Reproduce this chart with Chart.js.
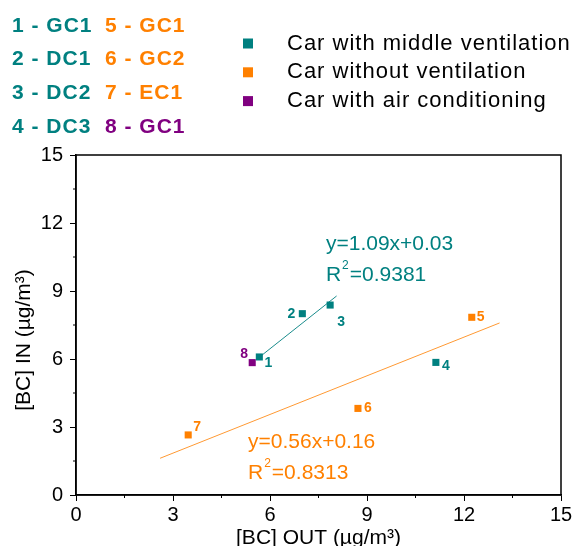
<!DOCTYPE html>
<html>
<head>
<meta charset="utf-8">
<script src="https://cdn.jsdelivr.net/npm/chart.js@4"></script>
<style>
  html, body { margin: 0; padding: 0; background: #fff; }
  #wrap { width: 576px; height: 546px; }
</style>
</head>
<body>
<div id="wrap"><canvas id="bcChart" width="576" height="546"></canvas></div>
<script>
const outBC = [5.67, 7.0, 7.86, 11.13, 12.24, 8.72, 3.47, 5.45];
const inBC = [6.09, 8.0, 8.38, 5.85, 7.84, 3.82, 2.65, 5.84];
const pointNames = ['1', '2', '3', '4', '5', '6', '7', '8'];
const pointGroup = [0, 0, 0, 0, 1, 1, 1, 2];
const groupNames = ['Car with middle ventilation', 'Car without ventilation', 'Car with air conditioning'];
const siteKeys = ['1 - GC1', '2 - DC1', '3 - DC2', '4 - DC3', '5 - GC1', '6 - GC2', '7 - EC1', '8 - GC1'];

// fitted lines (end points as drawn)
const fitMiddleX = [5.6, 8.06];
const fitMiddleY = [6.0, 8.78];
const fitNoVentX = [2.6, 13.1];
const fitNoVentY = [1.62, 7.59];
const fitEquations = ['y=1.09x+0.03', 'y=0.56x+0.16'];
const fitR2 = ['0.9381', '0.8313'];

const groupColors = ['#008080', '#ff8000', '#800080'];
const fitColors = ['#1a8c8c', '#ff9933'];
// label offsets in px from each marker
const labelOffsets = [[9, 6], [-11, 0], [11, 17], [10, 4], [9, 0], [10, 0], [9, -8], [-8, -8]];
// where the equations sit (data coords of the left edge, first line)
const eqAnchors = [[7.73, 11.07], [5.32, 2.34]];

const datasets = groupNames.map((name, g) => {
    const pts = [];
    outBC.forEach((x, i) => {
        if (pointGroup[i] === g) pts.push({ x: x, y: inBC[i], label: pointNames[i] });
    });
    return {
        type: 'scatter',
        label: name,
        data: pts,
        pointStyle: 'rect',
        pointRadius: 5,
        backgroundColor: groupColors[g],
        borderColor: groupColors[g],
        borderWidth: 0
    };
});
datasets.push({
    type: 'line',
    label: 'fit middle',
    data: fitMiddleX.map((x, i) => ({ x: x, y: fitMiddleY[i] })),
    borderColor: fitColors[0],
    borderWidth: 1,
    pointRadius: 0,
    fill: false
});
datasets.push({
    type: 'line',
    label: 'fit no vent',
    data: fitNoVentX.map((x, i) => ({ x: x, y: fitNoVentY[i] })),
    borderColor: fitColors[1],
    borderWidth: 1,
    pointRadius: 0,
    fill: false
});

const isMajor = v => Math.abs(v / 3 - Math.round(v / 3)) < 1e-6;

const decorPlugin = {
    id: 'decor',
    afterDraw(chart) {
        const ctx = chart.ctx;
        const area = chart.chartArea;
        const xs = chart.scales.x, ys = chart.scales.y;
        ctx.save();

        // box
        ctx.strokeStyle = '#000';
        ctx.lineWidth = 1.5;
        ctx.strokeRect(area.left, area.top, area.right - area.left, area.bottom - area.top);

        // minor ticks
        ctx.lineWidth = 1;
        for (let v = 1.5; v < 15; v += 3) {
            const px = xs.getPixelForValue(v);
            ctx.beginPath(); ctx.moveTo(px, area.bottom); ctx.lineTo(px, area.bottom + 3); ctx.stroke();
            const py = ys.getPixelForValue(v);
            ctx.beginPath(); ctx.moveTo(area.left, py); ctx.lineTo(area.left - 3, py); ctx.stroke();
        }

        // point labels
        ctx.font = 'bold 14px "Liberation Sans", Arial, sans-serif';
        ctx.textAlign = 'center';
        ctx.textBaseline = 'middle';
        outBC.forEach((x, i) => {
            ctx.fillStyle = groupColors[pointGroup[i]];
            ctx.fillText(pointNames[i],
                xs.getPixelForValue(x) + labelOffsets[i][0],
                ys.getPixelForValue(inBC[i]) + labelOffsets[i][1]);
        });

        // equations
        ctx.textAlign = 'left';
        eqAnchors.forEach((a, k) => {
            const x0 = xs.getPixelForValue(a[0]);
            const y0 = ys.getPixelForValue(a[1]);
            ctx.fillStyle = fitColors[k] === fitColors[0] ? groupColors[0] : groupColors[1];
            ctx.font = '21px "Liberation Sans", Arial, sans-serif';
            ctx.fillText(fitEquations[k], x0, y0);
            ctx.fillText('R', x0, y0 + 31);
            const rw = ctx.measureText('R').width;
            ctx.font = '12px "Liberation Sans", Arial, sans-serif';
            ctx.fillText('2', x0 + rw + 1, y0 + 22);
            const sw = ctx.measureText('2').width;
            ctx.font = '21px "Liberation Sans", Arial, sans-serif';
            ctx.fillText('=' + fitR2[k], x0 + rw + sw + 2, y0 + 31);
        });

        // axis titles
        ctx.fillStyle = '#000';
        ctx.font = '21px "Liberation Sans", Arial, sans-serif';
        ctx.textAlign = 'center';
        ctx.fillText('[BC] OUT (\u00b5g/m\u00b3)', (area.left + area.right) / 2, 538);
        ctx.save();
        ctx.translate(24, 340);
        ctx.rotate(-Math.PI / 2);
        ctx.fillText('[BC] IN (\u00b5g/m\u00b3)', 0, 0);
        ctx.restore();

        // site key, top left
        ctx.font = 'bold 21px "Liberation Sans", Arial, sans-serif';
        ctx.letterSpacing = '1px';
        ctx.textAlign = 'left';
        siteKeys.forEach((s, i) => {
            const col = i < 4 ? 0 : 1;
            const row = i % 4;
            ctx.fillStyle = groupColors[pointGroup[i]];
            ctx.fillText(s, 12 + col * 93, 26 + row * 33.7);
        });

        // group legend
        ctx.font = '22px "Liberation Sans", Arial, sans-serif';
        groupNames.forEach((n, g) => {
            const cy = 43.5 + g * 28.8;
            ctx.fillStyle = groupColors[g];
            ctx.fillRect(243, cy - 5, 10, 10);
            ctx.fillStyle = '#000';
            ctx.fillText(n, 287, cy);
        });
        ctx.letterSpacing = '0px';
        ctx.restore();
    }
};

new Chart(document.getElementById('bcChart').getContext('2d'), {
    type: 'scatter',
    data: { datasets: datasets },
    options: {
        responsive: false,
        animation: false,
        layout: { padding: { top: 155, right: 15, left: 0, bottom: 0 } },
        plugins: {
            legend: { display: false },
            tooltip: { enabled: false }
        },
        scales: {
            x: {
                type: 'linear',
                min: 0,
                max: 15,
                afterFit: s => { s.height = 51; },
                border: { display: true, color: '#000', width: 1.5 },
                grid: { drawOnChartArea: false, tickLength: 6, color: '#000', tickColor: '#000' },
                ticks: {
                    stepSize: 3,
                    autoSkip: false,
                    maxRotation: 0,
                    padding: 2,
                    color: '#000',
                    font: { size: 20, family: '"Liberation Sans", Arial, sans-serif' }
                }
            },
            y: {
                type: 'linear',
                min: 0,
                max: 15,
                afterFit: s => { s.width = 76; },
                border: { display: true, color: '#000', width: 1.5 },
                grid: { drawOnChartArea: false, tickLength: 6, color: '#000', tickColor: '#000' },
                ticks: {
                    stepSize: 3,
                    autoSkip: false,
                    padding: 7,
                    color: '#000',
                    font: { size: 20, family: '"Liberation Sans", Arial, sans-serif' },
                    callback: v => isMajor(v) ? v : ''
                }
            }
        }
    },
    plugins: [decorPlugin]
});
</script>
</body>
</html>
